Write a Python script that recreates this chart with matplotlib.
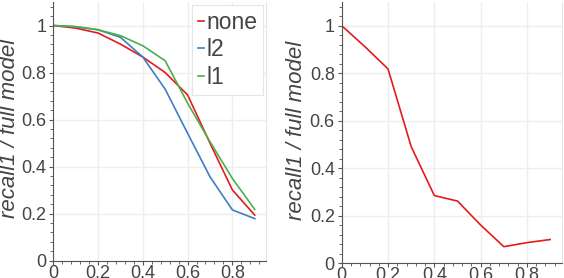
import matplotlib
matplotlib.use("Agg")
import matplotlib.pyplot as plt
from matplotlib.ticker import MultipleLocator

plt.rcParams['font.family'] = ['Liberation Sans', 'DejaVu Sans']

# data
x = [0, 0.1, 0.2, 0.3, 0.4, 0.5, 0.6, 0.7, 0.8, 0.9]
none_vals = [1.0, 0.989, 0.968, 0.921, 0.866, 0.80, 0.705, 0.50, 0.301, 0.194]
l2_vals = [1.0, 0.995, 0.982, 0.95, 0.866, 0.729, 0.542, 0.357, 0.216, 0.179]
l1_vals = [1.0, 0.995, 0.982, 0.957, 0.914, 0.85, 0.67, 0.506, 0.35, 0.218]
right_vals = [1.0, 0.912, 0.818, 0.491, 0.285, 0.262, 0.161, 0.07, 0.087, 0.100]

series_names = ['none', 'l2', 'l1']
series_colors = ['#e41a1c', '#3d7fc2', '#4daf4a']
tick_vals = [0, 0.2, 0.4, 0.6, 0.8, 1]
tick_labels = ['0', '0.2', '0.4', '0.6', '0.8', '1']
ylabel = 'recall1 / full model'

text_color = '#444444'


def style_axes(ax):
    ax.set_xlim(0, 0.95)
    ax.set_ylim(0, 1.1)
    ax.set_xticks(tick_vals[:-1])
    ax.set_xticklabels(tick_labels[:-1])
    ax.set_yticks(tick_vals)
    ax.set_yticklabels(tick_labels)
    ax.xaxis.set_minor_locator(MultipleLocator(0.04))
    ax.yaxis.set_minor_locator(MultipleLocator(0.04))
    ax.grid(True, which='major', color='#eeeeee', linewidth=1.0)
    ax.set_axisbelow(True)
    ax.spines['top'].set_visible(False)
    ax.spines['right'].set_color('#e6e6e6')
    ax.spines['left'].set_color('#555555')
    ax.spines['bottom'].set_color('#555555')
    ax.tick_params(which='major', length=3, width=0.8, color='#555555',
                   labelsize=13, labelcolor=text_color)
    ax.tick_params(which='minor', length=2, width=0.7, color='#666666')
    ax.tick_params(axis='x', pad=0)
    ax.tick_params(axis='y', pad=2)
    ax.set_ylabel(ylabel, fontsize=16, style='italic', color=text_color)
    ax.yaxis.set_label_coords(-0.155, 0.51)


fig = plt.figure(figsize=(5.64, 2.78), dpi=100)

ax1 = fig.add_axes([0.0945, 0.0622, 0.377, 0.9306])
for vals, name, col in zip([none_vals, l2_vals, l1_vals], series_names, series_colors):
    ax1.plot(x, vals, color=col, linewidth=1.2, label=name)
style_axes(ax1)
leg = ax1.legend(loc='upper right', bbox_to_anchor=(0.986, 0.988), fontsize=16.5,
                 handlelength=0.3, handletextpad=0.08, labelspacing=0.2,
                 borderpad=0.25, borderaxespad=0, fancybox=False, framealpha=1)
leg.get_frame().set_edgecolor('#e6e6e6')
leg.get_frame().set_linewidth(0.8)
for t in leg.get_texts():
    t.set_color(text_color)

ax2 = fig.add_axes([0.6059, 0.0529, 0.390, 0.94])
ax2.plot(x, right_vals, color=series_colors[0], linewidth=1.2)
style_axes(ax2)
ax2.yaxis.set_label_coords(-0.158, 0.51)

fig.savefig('out.png', dpi=100)
